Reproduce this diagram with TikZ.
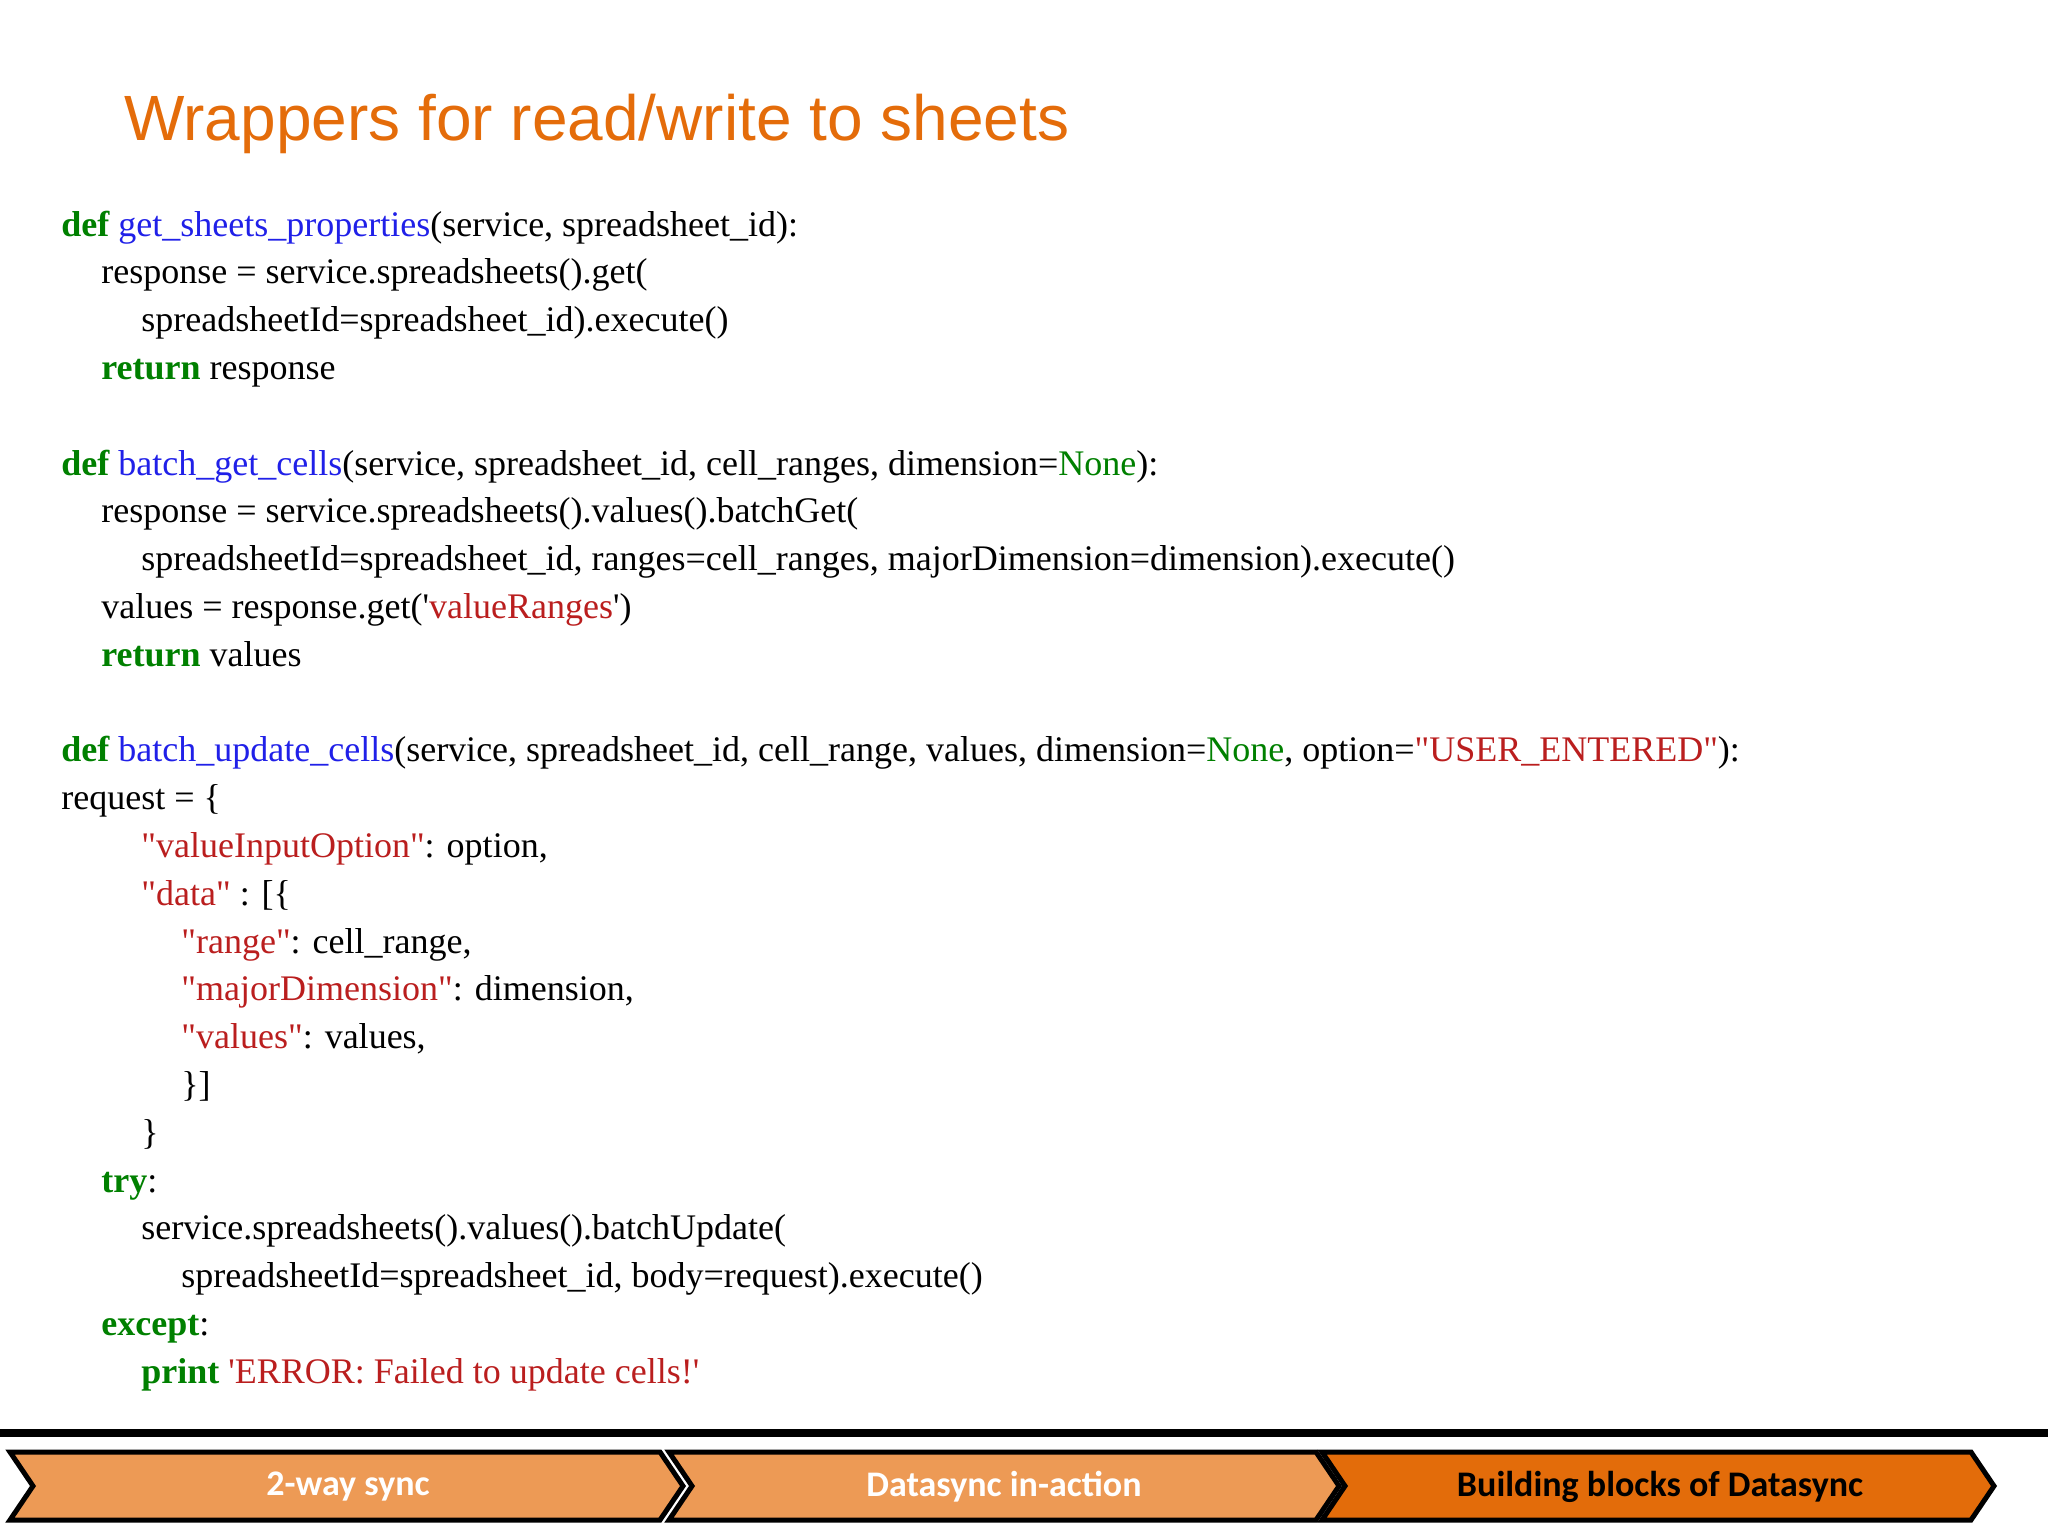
\documentclass[tikz,border=0pt]{standalone}
\usepackage{fontspec}
\newfontfamily\codefont{Liberation Serif}
\newfontfamily\titlefont{Liberation Sans}
\newfontfamily\barfont{Carlito}
\definecolor{kwc}{HTML}{008000}
\definecolor{fnc}{HTML}{2020E8}
\definecolor{strc}{HTML}{BA1E1E}
\definecolor{ttl}{HTML}{E46C0A}
\definecolor{light}{HTML}{ED9A55}
\definecolor{dark}{HTML}{E36C0A}
\newcommand{\kw}[1]{\textcolor{kwc}{\bfseries #1}}
\newcommand{\fn}[1]{\textcolor{fnc}{#1}}
\newcommand{\st}[1]{\textcolor{strc}{#1}}
\newcommand{\nn}{\textcolor{kwc}{None}}
\begin{document}
\begin{tikzpicture}[x=0.5pt,y=-0.5pt,
  code/.style={anchor=base west,inner sep=0pt,font=\codefont\fontsize{18}{20}\selectfont},
  chev/.style={draw=black,line width=2.5pt,line join=miter},
  bartext/.style={font=\barfont\bfseries\fontsize{18}{20}\selectfont}]
\useasboundingbox (0,0) rectangle (2048,1536);
\node[anchor=west,inner sep=0pt,text=ttl,font=\titlefont\fontsize{32}{36}\selectfont] (title) at (124,124) {Wrappers for read/write to sheets};
\def\L#1{\fpeval{236+47.8*#1}}
\node[code] (c0) at (61,\L{0}) {\kw{def} \fn{get\_sheets\_properties}(service, spreadsheet\_id):};
\node[code] (c1) at (101,\L{1}) {response = service.spreadsheets().get(};
\node[code] (c2) at (141,\L{2}) {spreadsheetId=spreadsheet\_id).execute()};
\node[code] (c3) at (101,\L{3}) {\kw{return} response};
\node[code] (c5) at (61,\L{5}) {\kw{def} \fn{batch\_get\_cells}(service, spreadsheet\_id, cell\_ranges, dimension=\nn):};
\node[code] (c6) at (101,\L{6}) {response = service.spreadsheets().values().batchGet(};
\node[code] (c7) at (141,\L{7}) {spreadsheetId=spreadsheet\_id, ranges=cell\_ranges, majorDimension=dimension).execute()};
\node[code] (c8) at (101,\L{8}) {values = response.get('\st{valueRanges}')};
\node[code] (c9) at (101,\L{9}) {\kw{return} values};
\node[code] (c11) at (61,\L{11}) {\kw{def} \fn{batch\_update\_cells}(service, spreadsheet\_id, cell\_range, values, dimension=\nn, option=\st{"USER\_ENTERED"}):};
\node[code] (c12) at (61,\L{12}) {request = \{};
\node[code] (c13) at (141,\L{13}) {\st{"valueInputOption"}: option,};
\node[code] (c14) at (141,\L{14}) {\st{"data"} : [\{};
\node[code] (c15) at (181,\L{15}) {\st{"range"}: cell\_range,};
\node[code] (c16) at (181,\L{16}) {\st{"majorDimension"}: dimension,};
\node[code] (c17) at (181,\L{17}) {\st{"values"}: values,};
\node[code] (c18) at (181,\L{18}) {\}]};
\node[code] (c19) at (141,\L{19}) {\}};
\node[code] (c20) at (101,\L{20}) {\kw{try}:};
\node[code] (c21) at (141,\L{21}) {service.spreadsheets().values().batchUpdate(};
\node[code] (c22) at (181,\L{22}) {spreadsheetId=spreadsheet\_id, body=request).execute()};
\node[code] (c23) at (101,\L{23}) {\kw{except}:};
\node[code] (c24) at (141,\L{24}) {\kw{print} \st{'ERROR: Failed to update cells!'}};
% bottom bar
\fill (0,1429) rectangle (2048,1437);
\draw[chev,fill=light] (10,1452) -- (660,1452) -- (683,1486) -- (660,1520) -- (10,1520) -- (33,1486) -- cycle;
\draw[chev,fill=light] (669,1452) -- (1316,1452) -- (1339,1486) -- (1316,1520) -- (669,1520) -- (692,1486) -- cycle;
\draw[chev,fill=dark] (1322,1452) -- (1971,1452) -- (1994,1486) -- (1971,1520) -- (1322,1520) -- (1345,1486) -- cycle;
\node[bartext,text=white] (b1) at (348,1487) {2-way sync};
\node[bartext,text=white] (b2) at (1004,1487) {Datasync in-action};
\node[bartext,text=black] (b3) at (1660,1487) {Building blocks of Datasync};
\end{tikzpicture}
\end{document}
